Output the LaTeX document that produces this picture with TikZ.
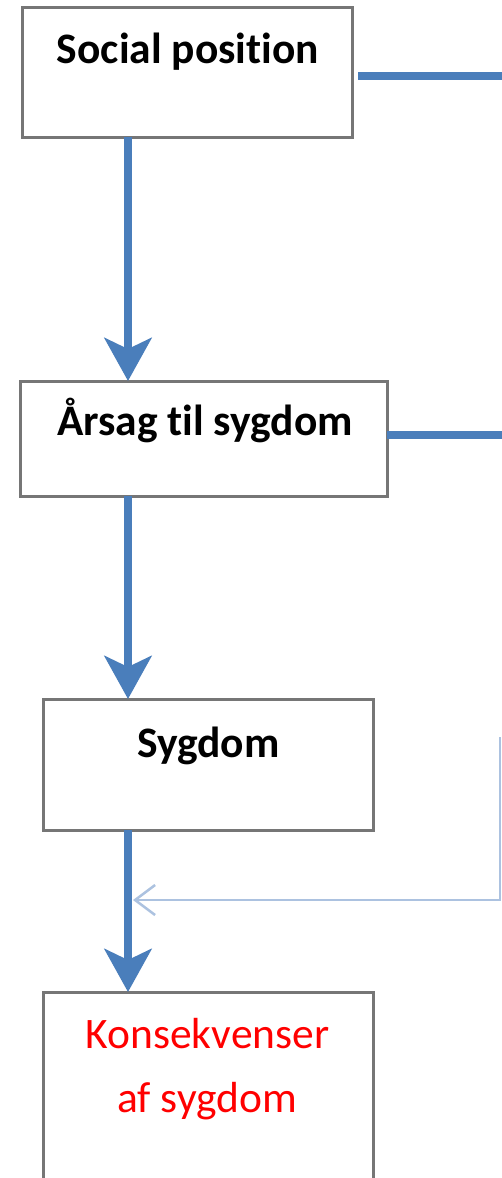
\documentclass[tikz,border=0pt]{standalone}
\usepackage{fontspec}
\setmainfont{Carlito}[Ligatures=NoCommon]
\usetikzlibrary{arrows.meta}
\definecolor{boxgray}{RGB}{118,118,118}
\definecolor{arrowblue}{RGB}{74,126,187}
\definecolor{thinblue}{RGB}{172,194,224}
\definecolor{konsred}{RGB}{255,0,0}
\begin{document}
\begin{tikzpicture}[x=1pt,y=-1pt,
  box/.style={draw=boxgray, line width=3pt, fill=white, inner sep=0pt, outer sep=0pt},
  lbl/.style={inner sep=0pt, anchor=base, font=\fontsize{43.5}{50}\selectfont\bfseries},
  redlbl/.style={inner sep=0pt, anchor=base, text=konsred, font=\fontsize{43.5}{50}\selectfont},
  mainarrow/.style={draw=arrowblue, line width=8pt, -{Stealth[length=43pt,width=47pt,inset=11pt]}},
  sideline/.style={draw=arrowblue, line width=8pt},
  thinline/.style={draw=thinblue, line width=2.5pt, -{Straight Barb[length=20pt,width=30pt,line width=2.5pt]}}
]
\useasboundingbox (0,0) rectangle (502,1178);
\clip (0,0) rectangle (502,1178);
\fill[white] (0,0) rectangle (502,1178);

% boxes
\node[box, minimum width=330pt, minimum height=130pt] (b1) at (187,72) {};
\node[box, minimum width=367pt, minimum height=115pt] (b2) at (203.5,438.5) {};
\node[box, minimum width=330pt, minimum height=131pt] (b3) at (208,764.5) {};
\node[box, minimum width=330pt, minimum height=230pt] (b4) at (208,1107) {};

% labels
\node[lbl] (t1) at (188,63) {Social position};
\node[lbl] (t2) at (205,435) {Årsag til sygdom};
\node[lbl] (t3) at (208.5,757) {Sygdom};
\node[redlbl] (t4a) at (207.5,1048) {Konsekvenser};
\node[redlbl] (t4b) at (207,1112) {af sygdom};

% helper coordinates
\coordinate (col) at (128,0);
\coordinate (r1) at (502,76);
\coordinate (r2) at (502,435);
\coordinate (c1) at (500,737);
\coordinate (c2) at (500,900);
\coordinate (j) at (133,900);

% main vertical arrows
\draw[mainarrow] (b1.south -| col) -- (b2.north -| col);
\draw[mainarrow] (b2.south -| col) -- (b3.north -| col);
\draw[mainarrow] (b3.south -| col) -- (b4.north -| col);

% lines leaving to the right
\draw[sideline] ([xshift=6pt]b1.east |- r1) -- (r1);
\draw[sideline] (b2.east |- r2) -- (r2);

% thin feedback connector
\draw[thinline] (c1) -- (c2) -- (j);
\end{tikzpicture}
\end{document}
